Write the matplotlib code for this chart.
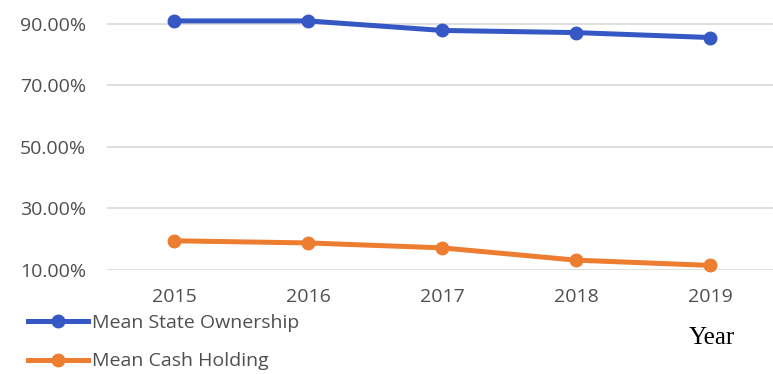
import matplotlib
matplotlib.use("Agg")
import matplotlib.pyplot as plt
from matplotlib.ticker import FuncFormatter

# Datos
years = ["2015", "2016", "2017", "2018", "2019"]
state_ownership = [91.0, 91.0, 87.9, 87.2, 85.6]
cash_holding = [19.5, 18.8, 17.2, 13.2, 11.5]
y_ticks = [10, 30, 50, 70, 90]

blue = "#3558C4"
orange = "#ED7D31"
gray = "#4F4F4F"

fig = plt.figure(figsize=(7.73, 3.74), dpi=100)
ax = fig.add_axes([107 / 773, 1 - 270 / 374, 670 / 773, 270 / 374])

x = range(len(years))
ax.plot(x, state_ownership, color=blue, lw=3.6, marker="o", ms=9,
        label="Mean State Ownership", clip_on=False, zorder=3)
ax.plot(x, cash_holding, color=orange, lw=3.6, marker="o", ms=9,
        label="Mean Cash Holding", clip_on=False, zorder=3)

ax.set_xlim(-0.5, len(years) - 0.5)
ax.set_ylim(10, 97.8)
ax.set_yticks(y_ticks)
ax.yaxis.set_major_formatter(FuncFormatter(lambda v, p: f"{v:.2f}%"))
ax.set_xticks(list(x))
ax.set_xticklabels(years)

ax.grid(axis="y", color="#D9D9D9", lw=1.2)
ax.set_axisbelow(True)
for s in ax.spines.values():
    s.set_visible(False)
ax.tick_params(length=0, labelsize=14, labelcolor=gray)
ax.tick_params(axis="y", pad=15)
ax.tick_params(axis="x", pad=13)
for t in ax.get_xticklabels() + ax.get_yticklabels():
    t.set_family("Open Sans")

fig.text(712 / 773, 1 - 338 / 374, "Year", family="Liberation Serif",
         fontsize=18, ha="center", va="center", color="black")

# leyenda abajo a la izquierda, sin marco
fig.legend(loc="upper left", bbox_to_anchor=(28 / 773, 1 - 314 / 374),
           frameon=False, borderpad=0, borderaxespad=0, handlelength=3.1,
           handletextpad=0.2, labelspacing=1.05,
           prop={"family": "Open Sans", "size": 14}, labelcolor=gray)

fig.savefig("out.png", dpi=100)
